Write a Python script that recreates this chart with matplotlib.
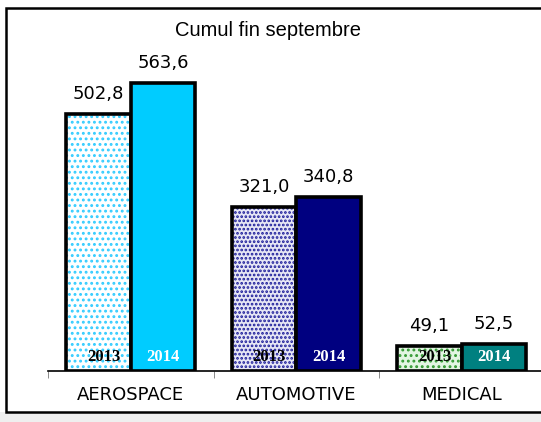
import matplotlib.pyplot as plt
from matplotlib.patches import Rectangle
import numpy as np

categories = ["AEROSPACE", "AUTOMOTIVE", "MEDICAL"]
values_2013 = [502.8, 321.0, 49.1]
values_2014 = [563.6, 340.8, 52.5]
year_labels = ["2013", "2014"]
title = "Cumul fin septembre"

# colours per category: (2014 fill, 2013 background, 2013 dots)
fill_2014 = ["#00CCFF", "#000080", "#008080"]
bg_2013 = ["#FFFFFF", "#E6E6F5", "#E2F5E2"]
dots_2013 = ["#33CCFF", "#1A1A99", "#339933"]
hatch_2013 = ["...", "....", "..."]

W, H = 541, 422
fig = plt.figure(figsize=(W / 100, H / 100), dpi=100)

# outer frame of the chart object
fig.patches.append(Rectangle((0, 0), 1, 10 / H, transform=fig.transFigure,
                             facecolor="#EFEFEF", edgecolor="none", zorder=0))
fig.patches.append(Rectangle((6 / W, 10 / H), 1, (H - 18) / H, transform=fig.transFigure,
                             facecolor="white", edgecolor="black", lw=1.8, zorder=1))

ax = fig.add_axes([48 / W, 51 / H, 496.5 / W, 341 / H])
ax.set_zorder(2)
ax.patch.set_visible(False)

x = np.arange(len(categories))
bw = 0.39

plt.rcParams["hatch.linewidth"] = 1.3
for i in range(len(categories)):
    # 2013: dotted pattern
    ax.bar(x[i] - bw / 2, values_2013[i], bw, color=bg_2013[i],
           edgecolor=dots_2013[i], hatch=hatch_2013[i], lw=0, zorder=2)
    ax.bar(x[i] - bw / 2, values_2013[i], bw, fill=False,
           edgecolor="black", lw=2.6, zorder=3)
    # 2014: solid
    ax.bar(x[i] + bw / 2, values_2014[i], bw, color=fill_2014[i],
           edgecolor="black", lw=2.6, zorder=3)

    ax.text(x[i] - bw / 2, values_2013[i] + 22, f"{values_2013[i]:.1f}".replace(".", ","),
            ha="center", va="bottom", fontsize=13, family="DejaVu Sans")
    ax.text(x[i] + bw / 2, values_2014[i] + 22, f"{values_2014[i]:.1f}".replace(".", ","),
            ha="center", va="bottom", fontsize=13, family="DejaVu Sans")

    ax.text(x[i] - bw / 2 + 0.03, 27, year_labels[0], ha="center", va="center",
            fontsize=12, fontweight="bold", family="Liberation Serif", color="black", zorder=4)
    ax.text(x[i] + bw / 2, 27, year_labels[1], ha="center", va="center",
            fontsize=12, fontweight="bold", family="Liberation Serif", color="white", zorder=4)

ax.set_xlim(-0.5, len(categories) - 0.5)
ax.set_ylim(0, 667)
for s in ["top", "right", "left"]:
    ax.spines[s].set_visible(False)
ax.spines["bottom"].set_linewidth(1.2)
ax.set_yticks([])
ax.set_xticks(x)
ax.set_xticklabels(categories, fontsize=13, family="DejaVu Sans")
ax.tick_params(axis="x", length=0, pad=11)
ax.set_xticks(np.arange(len(categories) + 1) - 0.5, minor=True)
ax.tick_params(axis="x", which="minor", length=5, color="#777777")

fig.text(268 / W, 1 - 30 / H, title, ha="center", va="center",
         fontsize=14.5, family="Liberation Sans")

fig.savefig("out.png", dpi=100)
